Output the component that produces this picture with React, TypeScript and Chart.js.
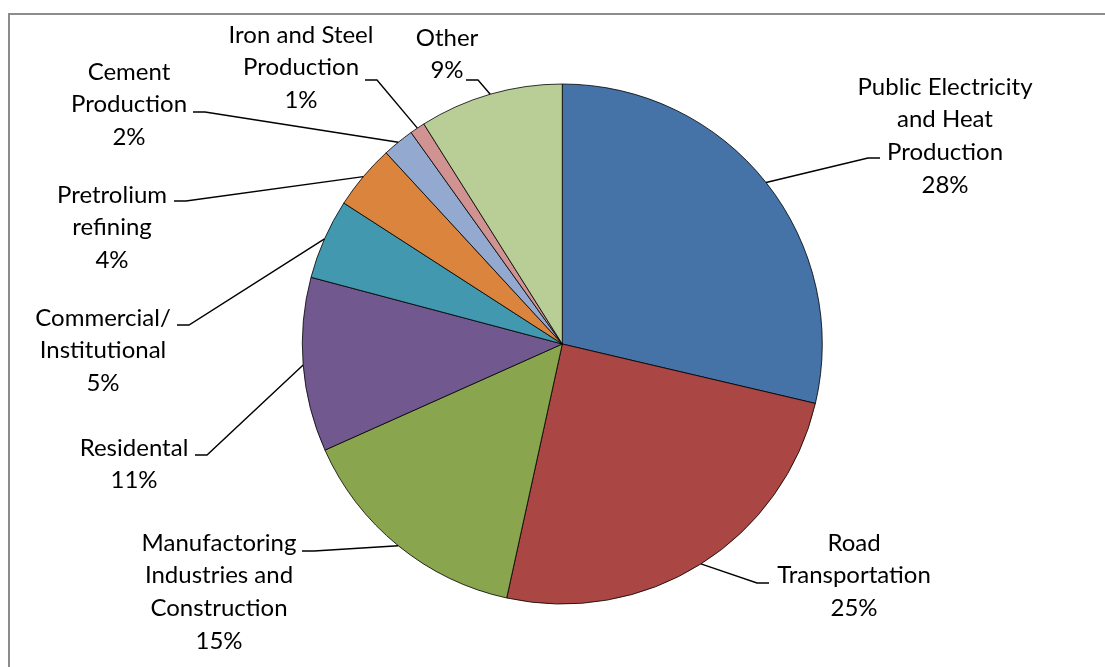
import { useEffect, useRef } from "react";
import { Chart, registerables } from "chart.js";
Chart.register(...registerables);

const categories: string[][] = [
  ["Public Electricity", "and Heat", "Production"],
  ["Road", "Transportation"],
  ["Manufactoring", "Industries and", "Construction"],
  ["Residental"],
  ["Commercial/", "Institutional"],
  ["Pretrolium", "refining"],
  ["Cement", "Production"],
  ["Iron and Steel", "Production"],
  ["Other"],
];
// slice sizes (percent of total)
const shares = [28.67, 24.76, 14.88, 10.82, 4.99, 4.03, 1.97, 0.94, 8.94];
// percentage labels as printed on the picture
const percentLabels = ["28%", "25%", "15%", "11%", "5%", "4%", "2%", "1%", "9%"];
const colors = [
  "#4572A7",
  "#AA4643",
  "#89A54E",
  "#71588F",
  "#4198AF",
  "#DB843D",
  "#93A9CF",
  "#D19392",
  "#B9CD96",
];

// label layout, offsets from the pie centre (px): text centre x, first line y, leader elbow x/y, side
const labelLayout = [
  { tx: 382.7, ty: -257, ex: 305.7, ey: -186, side: 1 },
  { tx: 291.7, ty: 199, ex: 194.7, ey: 239, side: 1 },
  { tx: -343.3, ty: 199, ex: -248.3, ey: 207, side: -1 },
  { tx: -428.3, ty: 104, ex: -355.3, ey: 111, side: -1 },
  { tx: -459.3, ty: -26, ex: -373.3, ey: -19, side: -1 },
  { tx: -450.3, ty: -149, ex: -376.3, ey: -143, side: -1 },
  { tx: -433.3, ty: -272, ex: -357.3, ey: -232, side: -1 },
  { tx: -261.3, ty: -309, ex: -185.3, ey: -264, side: -1 },
  { tx: -115.3, ty: -306, ex: -84.3, ey: -264, side: -1 },
];
const LINE_H = 32.7;
const FONT = "24px Lato, 'Open Sans', sans-serif";

const framePlugin = {
  id: "frame",
  beforeDraw(chart: any) {
    const ctx = chart.ctx;
    ctx.save();
    ctx.fillStyle = "#ffffff";
    ctx.fillRect(0, 0, chart.width, chart.height);
    ctx.strokeStyle = "#8c8c8c";
    ctx.lineWidth = 2;
    ctx.strokeRect(9, 14, chart.width + 50, chart.height + 50);
    ctx.restore();
  },
};

const labelPlugin = {
  id: "pieLabels",
  afterDatasetsDraw(chart: any) {
    const ctx = chart.ctx;
    const meta = chart.getDatasetMeta(0);
    ctx.save();
    ctx.font = FONT;
    ctx.fillStyle = "#000";
    ctx.strokeStyle = "#000";
    ctx.lineWidth = 1.4;
    ctx.textAlign = "center";
    ctx.textBaseline = "middle";
    meta.data.forEach((arc: any, i: number) => {
      const { x, y, startAngle, endAngle, outerRadius } = arc.getProps(
        ["x", "y", "startAngle", "endAngle", "outerRadius"],
        true
      );
      const mid = (startAngle + endAngle) / 2;
      const px = x + outerRadius * Math.cos(mid);
      const py = y + outerRadius * Math.sin(mid);
      const L = labelLayout[i];
      const e1x = x + L.ex;
      const e1y = y + L.ey;
      ctx.beginPath();
      ctx.moveTo(px, py);
      ctx.lineTo(e1x, e1y);
      ctx.lineTo(e1x + L.side * 12, e1y);
      ctx.stroke();
      const lines = [...categories[i], percentLabels[i]];
      lines.forEach((t, k) => {
        ctx.fillText(t, x + L.tx, y + L.ty + k * LINE_H);
      });
    });
    ctx.restore();
  },
};

export default function App() {
  const ref = useRef<HTMLCanvasElement>(null);
  useEffect(() => {
    if (!ref.current) return;
    const chart = new Chart(ref.current, {
      type: "pie",
      data: {
        labels: categories.map((c) => c.join(" ")),
        datasets: [
          {
            data: shares,
            backgroundColor: colors,
            borderColor: "#000000",
            borderWidth: 0.8,
            radius: 260,
          } as any,
        ],
      },
      options: {
        responsive: false,
        devicePixelRatio: 1,
        animation: false,
        layout: { padding: { left: 302.3, right: 282.7, top: 84, bottom: 63 } },
        plugins: {
          legend: { display: false },
          tooltip: { enabled: false },
        },
      },
      plugins: [framePlugin, labelPlugin],
    });
    return () => chart.destroy();
  }, []);
  return (
    <div style={{ position: "fixed", left: 0, top: 0, width: 1105, height: 667 }}>
      <canvas ref={ref} width={1105} height={667} style={{ display: "block" }} />
    </div>
  );
}
